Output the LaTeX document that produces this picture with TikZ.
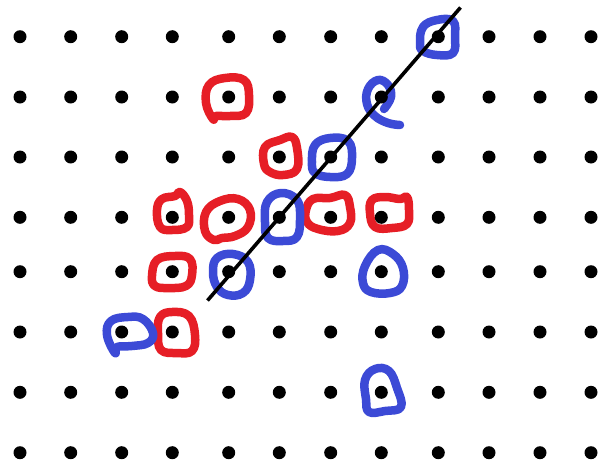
\documentclass[tikz,border=0pt]{standalone}
\definecolor{penred}{RGB}{230,30,38}
\definecolor{penblue}{RGB}{60,74,214}
\tikzset{
  dotmark/.style={circle,fill=black,inner sep=0pt,minimum size=13pt},
  redloop/.style={draw=penred,line width=8.5pt,line cap=round,line join=round},
  blueloop/.style={draw=penblue,line width=8.5pt,line cap=round,line join=round},
  fitline/.style={draw=black,line width=3.6pt}
}
\begin{document}
\begin{tikzpicture}[x=1pt,y=-1pt]
\useasboundingbox (0,0) rectangle (606,461);
% red loops
\draw[redloop] plot[smooth cycle,tension=0.7] coordinates {(213,119) (206,103) (209,85) (225,78) (244,80) (249,95) (246,113) (230,116) (216,116)};
\draw[redloop] plot[smooth cycle,tension=0.7] coordinates {(264,164) (265,147) (280,140) (292,137) (297,148) (297,169) (283,175) (270,172)};
\draw[redloop] plot[smooth cycle,tension=0.7] coordinates {(157,210) (162,199) (175,196) (180,192) (187,201) (189,215) (187,227) (172,230) (160,227)};
\draw[redloop] plot[smooth cycle,tension=0.7] coordinates {(205,231) (206,212) (220,201) (238,199) (250,210) (248,227) (235,236) (222,238) (214,240)};
\draw[redloop] plot[smooth cycle,tension=0.7] coordinates {(306,210) (313,199) (330,198) (345,195) (350,207) (350,223) (338,231) (318,229) (307,222)};
\draw[redloop] plot[smooth cycle,tension=0.7] coordinates {(370,213) (372,200) (385,197) (400,199) (407,197) (409,210) (407,224) (392,228) (375,227)};
\draw[redloop] plot[smooth cycle,tension=0.7] coordinates {(152,276) (157,260) (175,256) (190,259) (192,275) (186,286) (168,288) (155,286)};
\draw[redloop] plot[smooth cycle,tension=0.7] coordinates {(158,333) (160,317) (172,312) (189,316) (195,335) (192,351) (177,353) (161,350)};
% blue loops
\draw[blueloop] plot[smooth cycle,tension=0.7] coordinates {(420,43) (423,27) (437,20) (453,21) (455,37) (453,53) (437,55) (423,51)};
\draw[blueloop] plot[smooth,tension=0.7] coordinates {(384,109) (391,97) (388,85) (378,80) (368,89) (367,104) (375,116) (388,123) (400,125)};
\draw[blueloop] plot[smooth cycle,tension=0.7] coordinates {(312,162) (315,145) (330,138) (348,141) (352,158) (347,174) (330,177) (315,173)};
\draw[blueloop] plot[smooth cycle,tension=0.7] coordinates {(265,222) (267,202) (281,193) (297,200) (300,218) (297,237) (283,241) (268,238)};
\draw[blueloop] plot[smooth cycle,tension=0.7] coordinates {(213,272) (217,258) (233,254) (248,262) (250,280) (243,293) (228,295) (217,287)};
\draw[blueloop] plot[smooth cycle,tension=0.7] coordinates {(107,335) (111,321) (128,317) (143,319) (153,333) (148,343) (132,346) (117,347) (115,353)};
\draw[blueloop] plot[smooth cycle,tension=0.7] coordinates {(363,283) (365,266) (378,250) (393,254) (403,268) (402,286) (390,293) (371,292)};
\draw[blueloop] plot[smooth cycle,tension=0.7] coordinates {(366,399) (365,380) (375,369) (389,371) (397,388) (401,407) (385,411) (369,412)};
% dot grid
\foreach \x [count=\i] in {20,70.7,121.7,172.3,228.7,279.3,330.7,381.3,438.3,489,540,591}{
  \foreach \y [count=\j] in {36.7,97,157,217.3,271.7,332,392.3,452.7}{
    \node[dotmark] (d\i-\j) at (\x,\y) {};
  }
}
% line
\coordinate (lA) at (207.5,300.5);
\coordinate (lB) at (460.5,7.5);
\draw[fitline] (lA) -- (lB);
\end{tikzpicture}
\end{document}
